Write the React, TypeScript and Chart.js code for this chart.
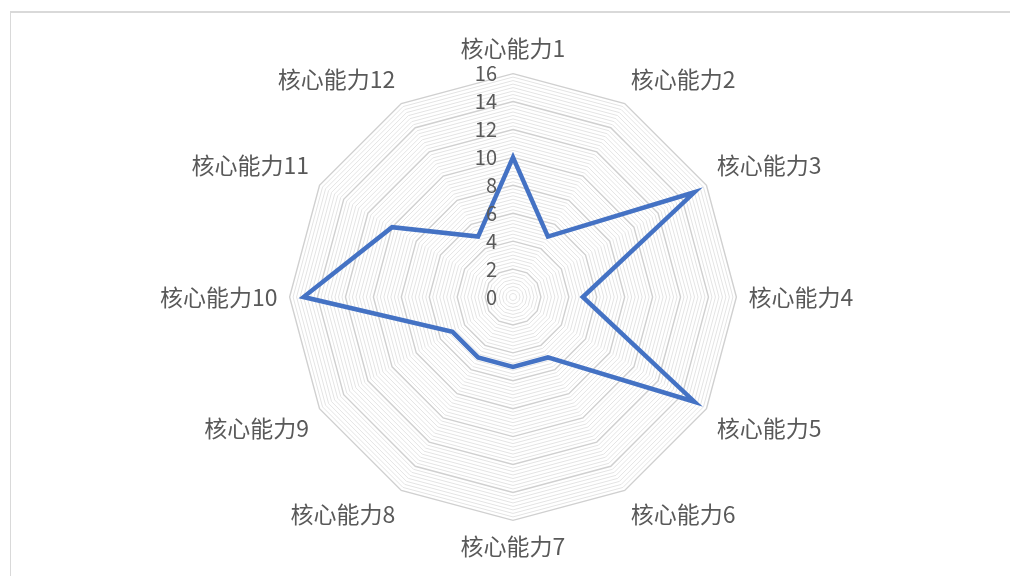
import React, { useEffect, useRef } from "react";
import { Chart, registerables } from "chart.js";

Chart.register(...registerables);

const categories = [
  "核心能力1", "核心能力2", "核心能力3", "核心能力4", "核心能力5", "核心能力6",
  "核心能力7", "核心能力8", "核心能力9", "核心能力10", "核心能力11", "核心能力12",
];
const seriesValues = [10, 5, 15, 5, 15, 5, 5, 5, 5, 15, 10, 5];
const tickLabels = [0, 2, 4, 6, 8, 10, 12, 14, 16];
const axisMax = 16;
const minorStep = 0.25;

const FONT = "'Noto Sans CJK SC', 'Noto Sans', sans-serif";
const TEXT = "#595959";

const tickLabelPlugin = {
  id: "tickLabelPlugin",
  afterDatasetsDraw(chart: any) {
    const scale = chart.scales.r;
    const ctx = chart.ctx;
    ctx.save();
    ctx.font = `20px ${FONT}`;
    ctx.fillStyle = TEXT;
    ctx.textAlign = "right";
    ctx.textBaseline = "middle";
    tickLabels.forEach((v) => {
      const d = scale.getDistanceFromCenterForValue(v);
      ctx.fillText(String(v), scale.xCenter - 16, scale.yCenter - d);
    });
    ctx.restore();
  },
};

export default function App() {
  const ref = useRef<HTMLCanvasElement>(null);
  useEffect(() => {
    if (!ref.current) return;
    const chart = new Chart(ref.current, {
      type: "radar",
      data: {
        labels: categories,
        datasets: [
          {
            data: seriesValues,
            borderColor: "#4472C4",
            borderWidth: 4.5,
            fill: false,
            pointRadius: 0,
            pointHoverRadius: 0,
            borderJoinStyle: "miter",
          },
        ],
      },
      options: {
        animation: false,
        responsive: false,
        maintainAspectRatio: false,
        layout: { padding: { left: 16, right: 0, top: 35, bottom: 15 } },
        plugins: { legend: { display: false }, tooltip: { enabled: false } },
        scales: {
          r: {
            min: 0,
            max: axisMax,
            beginAtZero: true,
            angleLines: { display: false },
            grid: {
              color: (c: any) =>
                Math.abs((c.tick?.value ?? 0) % 2) < 1e-6 ? "#d0d0d0" : "#e4e4e4",
              lineWidth: (c: any) =>
                Math.abs((c.tick?.value ?? 0) % 2) < 1e-6 ? 1.4 : 1,
            },
            ticks: { display: false, stepSize: minorStep },
            pointLabels: {
              color: TEXT,
              font: { family: FONT, size: 23 },
              padding: 12,
            },
          },
        },
      },
      plugins: [tickLabelPlugin],
    });
    return () => chart.destroy();
  }, []);
  return (
    <div style={{ position: "fixed", left: 0, top: 0, width: 1010, height: 576, background: "#fff" }}>
      <div
        style={{
          position: "absolute",
          left: 10,
          top: 11,
          width: 1010,
          height: 600,
          borderTop: "2px solid #d9d9d9",
          borderLeft: "1px solid #d9d9d9",
        }}
      />
      <canvas ref={ref} width={1010} height={576} style={{ position: "absolute", left: 0, top: 0 }} />
    </div>
  );
}
